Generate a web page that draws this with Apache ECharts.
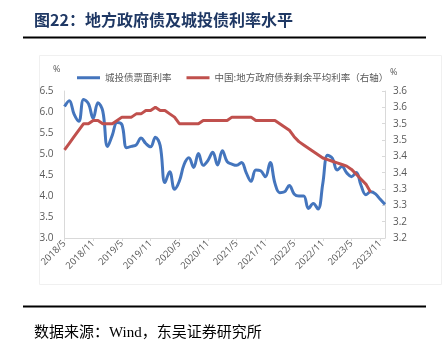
<!DOCTYPE html>
<html>
<head>
<meta charset="utf-8">
<script src="https://cdn.jsdelivr.net/npm/echarts@6/dist/echarts.min.js"></script>
<style>
html,body{margin:0;padding:0;background:#fff;}
#c{width:442px;height:349px;}
</style>
</head>
<body>
<div id="c"></div>
<script>
var categories = [
 '2018/5','2018/6','2018/7','2018/8','2018/9','2018/10','2018/11','2018/12',
 '2019/1','2019/2','2019/3','2019/4','2019/5','2019/6','2019/7','2019/8','2019/9','2019/10','2019/11','2019/12',
 '2020/1','2020/2','2020/3','2020/4','2020/5','2020/6','2020/7','2020/8','2020/9','2020/10','2020/11','2020/12',
 '2021/1','2021/2','2021/3','2021/4','2021/5','2021/6','2021/7','2021/8','2021/9','2021/10','2021/11','2021/12',
 '2022/1','2022/2','2022/3','2022/4','2022/5','2022/6','2022/7','2022/8','2022/9','2022/10','2022/11','2022/12',
 '2023/1','2023/2','2023/3','2023/4','2023/5','2023/6','2023/7','2023/8','2023/9','2023/10','2023/11','2023/12'
];
var seriesNames = ['城投债票面利率', '中国:地方政府债券剩余平均利率（右轴）'];
var chengtouRate = [
 6.13, 6.27, 5.95, 5.78, 6.30, 6.20, 5.85, 6.22, 6.02, 5.18,
 5.45, 5.75, 5.70, 5.15, 5.18, 5.22, 5.38, 5.25, 5.17, 5.40,
 5.20, 4.32, 4.58, 4.16, 4.35, 4.75, 4.91, 4.68, 5.01, 4.73,
 4.85, 5.04, 4.74, 5.08, 4.82, 4.76, 4.73, 4.80, 4.55, 4.35,
 4.62, 4.60, 4.46, 4.80, 4.30, 4.08, 4.10, 4.25, 4.05, 4.00,
 4.00, 3.70, 3.82, 3.69, 4.30, 4.97, 4.90, 4.62, 4.70, 4.55,
 4.46, 4.56, 4.25, 4.03, 4.10, 4.05, 3.92, 3.80
];
var localGovRate = [
 3.42, 3.44, 3.46, 3.48, 3.50, 3.50, 3.51, 3.51, 3.50, 3.50,
 3.50, 3.51, 3.52, 3.52, 3.52, 3.53, 3.53, 3.54, 3.54, 3.55,
 3.54, 3.54, 3.53, 3.52, 3.50, 3.50, 3.50, 3.50, 3.50, 3.51,
 3.51, 3.51, 3.51, 3.51, 3.51, 3.52, 3.52, 3.52, 3.52, 3.52,
 3.51, 3.51, 3.51, 3.51, 3.51, 3.50, 3.49, 3.48, 3.46, 3.445,
 3.435, 3.425, 3.415, 3.405, 3.395, 3.39, 3.385, 3.38, 3.375, 3.37,
 3.36, 3.345, 3.33, 3.315, 3.29
];
var leftTickLabels = ['3.0','3.5','4.0','4.5','5.0','5.5','6.0','6.5'];
var rightTickLabels = ['3.2','3.2','3.3','3.3','3.4','3.4','3.5','3.5','3.6','3.6'];
var titleText = '图22：地方政府债及城投债利率水平';
var sourceText = '数据来源：Wind，东吴证券研究所';

var chart = echarts.init(document.getElementById('c'), null, {renderer:'canvas'});
var labelColor = '#595959';
var axisColor = '#d9d9d9';
var option = {
  animation: false,
  backgroundColor: '#fff',
  grid: {left: 64.5, right: 57, top: 91, bottom: 111},
  legend: {
    left: 72, top: 68,
    itemWidth: 23, itemHeight: 3, itemGap: 15,
    icon: 'rect',
    textStyle: {color: labelColor, fontSize: 9.5, fontFamily: 'Noto Sans CJK SC'},
    data: seriesNames
  },
  xAxis: {
    type: 'category', data: categories, boundaryGap: false,
    axisLine: {lineStyle: {color: axisColor}},
    axisTick: {show: true, interval: 5, length: 3, lineStyle: {color: axisColor}},
    axisLabel: {interval: 5, rotate: 45, margin: 4, color: labelColor, fontSize: 9.5, fontFamily: 'Open Sans'},
    splitLine: {show: false}
  },
  yAxis: [{
    type: 'value', min: 3.0, max: 6.5, interval: 0.5,
    axisLine: {show: true, lineStyle: {color: axisColor}},
    axisTick: {show: false},
    splitLine: {show: false},
    axisLabel: {margin: 11, color: labelColor, fontSize: 10, fontFamily: 'Open Sans',
      formatter: function(v){ var k = Math.round((v-3.0)/0.5); return leftTickLabels[k] || ''; }}
  },{
    type: 'value', min: 3.15, max: 3.60, interval: 0.05, position: 'right',
    axisLine: {show: true, lineStyle: {color: axisColor}},
    axisTick: {show: true, inside: true, length: 3, lineStyle: {color: axisColor}},
    splitLine: {show: false},
    axisLabel: {margin: 8, color: labelColor, fontSize: 10, fontFamily: 'Open Sans',
      formatter: function(v){ var k = Math.round((v-3.15)/0.05); return rightTickLabels[k] || ''; }}
  }],
  series: [{
    name: seriesNames[0], type: 'line', data: chengtouRate, yAxisIndex: 0,
    smooth: 0.4, showSymbol: false, symbol: 'none',
    lineStyle: {color: '#4475bd', width: 3}, itemStyle: {color: '#4475bd'}
  },{
    name: seriesNames[1], type: 'line', data: localGovRate, yAxisIndex: 1,
    smooth: false, showSymbol: false, symbol: 'none',
    lineStyle: {color: '#c0504d', width: 3}, itemStyle: {color: '#c0504d'}
  }],
  graphic: [
    {type: 'text', left: 34, top: 12, style: {text: titleText, fill: '#1f3864', font: 'bold 16px "Noto Sans CJK SC"'}},
    {type: 'rect', shape: {x: 23, y: 36.5, width: 403, height: 2}, style: {fill: '#000'}},
    {type: 'rect', shape: {x: 39.5, y: 55.5, width: 402, height: 229}, style: {fill: 'none', stroke: '#f0f0f0', lineWidth: 1}},
    {type: 'text', left: 53, top: 65, style: {text: '%', fill: labelColor, font: '9px "Open Sans"'}},
    {type: 'text', left: 390, top: 68, style: {text: '%', fill: labelColor, font: '9px "Open Sans"'}},
    {type: 'rect', shape: {x: 23, y: 305.5, width: 403, height: 2}, style: {fill: '#000'}},
    {type: 'text', left: 34, top: 326, style: {text: sourceText, fill: '#000', font: '15px "Liberation Serif", "Noto Sans CJK SC"'}}
  ]
};
chart.setOption(option);
</script>
</body>
</html>
